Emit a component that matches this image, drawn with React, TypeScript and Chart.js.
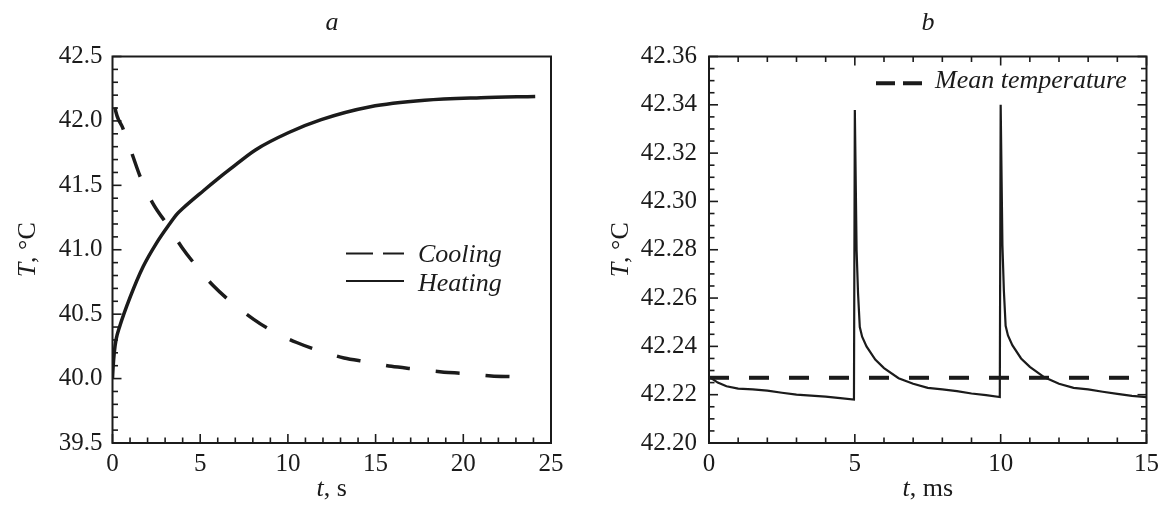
import React, { useEffect, useRef } from "react";
import { Chart, registerables } from "chart.js";

Chart.register(...registerables);

const FONT = '"Liberation Serif", "Times New Roman", Times, serif';
const INK = "#1b1b1b";

// ---------- Panel a data ----------
const A_X_TICKS = [0, 5, 10, 15, 20, 25];
const A_Y_TICKS = [39.5, 40.0, 40.5, 41.0, 41.5, 42.0, 42.5];

const A_HEAT_T = [0, 0.03, 0.1, 0.2, 0.4, 1.0, 1.75, 2.5, 3.2, 3.7, 4.0, 5.2, 6.0, 6.7, 8.15, 10.05, 11.9, 14.7, 17.8, 21.0, 24.1];
const A_HEAT_V = [40.0, 40.08, 40.2, 40.3, 40.4, 40.63, 40.87, 41.05, 41.19, 41.28, 41.32, 41.46, 41.55, 41.625, 41.775, 41.91, 42.01, 42.11, 42.16, 42.18, 42.19];

const A_COOL_T = [0, 0.13, 0.6, 1.1, 1.6, 2.3, 3.2, 3.95, 4.8, 5.75, 6.8, 8.05, 9.1, 10.5, 11.7, 13.2, 14.5, 15.9, 17.2, 18.9, 20.0, 21.6, 22.8];
const A_COOL_V = [42.26, 42.11, 41.94, 41.75, 41.56, 41.36, 41.18, 41.02, 40.87, 40.72, 40.59, 40.46, 40.37, 40.28, 40.22, 40.16, 40.13, 40.095, 40.075, 40.05, 40.04, 40.02, 40.015];

// ---------- Panel b data ----------
const B_X_TICKS = [0, 5, 10, 15];
const B_Y_TICKS = [42.2, 42.22, 42.24, 42.26, 42.28, 42.3, 42.32, 42.34, 42.36];

const B_T = [0, 0.3, 0.6, 1.0, 1.5, 2.0, 2.5, 3.0, 3.5, 4.0, 4.5, 4.97, 5.0, 5.06, 5.11, 5.17, 5.25, 5.4, 5.7, 6.0, 6.5, 7.0, 7.5, 8.0, 8.5, 9.0, 9.5, 9.97, 10.0, 10.06, 10.11, 10.17, 10.25, 10.4, 10.7, 11.0, 11.5, 12.0, 12.5, 13.0, 13.5, 14.0, 14.5, 15.0];
const B_V = [42.2275, 42.225, 42.2235, 42.2225, 42.2222, 42.2217, 42.2208, 42.22, 42.2196, 42.2192, 42.2186, 42.218, 42.3378, 42.28, 42.262, 42.248, 42.244, 42.24, 42.2345, 42.231, 42.2268, 42.2245, 42.2228, 42.2222, 42.2215, 42.2205, 42.2198, 42.219, 42.34, 42.282, 42.263, 42.2485, 42.2445, 42.2405, 42.235, 42.2315, 42.2272, 42.2245, 42.2228, 42.2222, 42.2212, 42.2203, 42.2195, 42.219];

const B_MEAN_T = [0, 15];
const B_MEAN_V = [42.227, 42.227];

const pts = (xs: number[], ys: number[]) => xs.map((x, i) => ({ x, y: ys[i] }));

type Part = { text: string; italic: boolean };
type LegendItem = { dash: number[]; width: number; x1: number; x2: number; y: number; text: string; tx: number; ty: number };
type Deco = {
  allSides: boolean;
  xMinorStep: number;
  yMinorStep: number;
  title: string;
  titleX: number;
  xTitle: Part[];
  yTitle: Part[];
  yTitleX: number;
  legend: LegendItem[];
};

const SIZE = 26;

function fontOf(italic: boolean) {
  return `${italic ? "italic " : ""}${SIZE}px ${FONT}`;
}

function drawParts(ctx: CanvasRenderingContext2D, parts: Part[], cx: number, y: number) {
  let total = 0;
  const widths = parts.map((p) => {
    ctx.font = fontOf(p.italic);
    const w = ctx.measureText(p.text).width;
    total += w;
    return w;
  });
  let x = cx - total / 2;
  parts.forEach((p, i) => {
    ctx.font = fontOf(p.italic);
    ctx.fillText(p.text, x, y);
    x += widths[i];
  });
}

function makeDeco(d: Deco) {
  return {
    id: "deco",
    afterDatasetsDraw(chart: any) {
      const ctx: CanvasRenderingContext2D = chart.ctx;
      const { left, right, top, bottom } = chart.chartArea;
      const xs = chart.scales.x;
      const ys = chart.scales.y;
      ctx.save();
      ctx.strokeStyle = INK;
      ctx.lineWidth = 1.6;
      ctx.setLineDash([]);
      const seg = (x1: number, y1: number, x2: number, y2: number) => {
        ctx.beginPath();
        ctx.moveTo(x1, y1);
        ctx.lineTo(x2, y2);
        ctx.stroke();
      };
      const MAJ = 9;
      const MIN = 5.5;
      const isMajor = (v: number, arr: number[]) => arr.some((m) => Math.abs(m - v) < 1e-6);
      const xMaj = xs.ticks.map((t: any) => t.value);
      const yMaj = ys.ticks.map((t: any) => t.value);
      const nx = Math.round((xs.max - xs.min) / d.xMinorStep);
      for (let i = 0; i <= nx; i++) {
        const v = xs.min + i * d.xMinorStep;
        const len = isMajor(v, xMaj) ? MAJ : MIN;
        const p = xs.getPixelForValue(v);
        seg(p, bottom, p, bottom - len);
        if (d.allSides) seg(p, top, p, top + len);
      }
      const ny = Math.round((ys.max - ys.min) / d.yMinorStep);
      for (let i = 0; i <= ny; i++) {
        const v = ys.min + i * d.yMinorStep;
        const len = isMajor(v, yMaj) ? MAJ : MIN;
        const p = ys.getPixelForValue(v);
        seg(left, p, left + len, p);
        if (d.allSides) seg(right, p, right - len, p);
      }
      ctx.lineWidth = 2;
      ctx.strokeRect(left, top, right - left, bottom - top);

      // legend samples + labels
      ctx.fillStyle = INK;
      ctx.textAlign = "left";
      ctx.textBaseline = "alphabetic";
      d.legend.forEach((it) => {
        ctx.lineWidth = it.width;
        ctx.setLineDash(it.dash);
        seg(it.x1, it.y, it.x2, it.y);
        ctx.setLineDash([]);
        ctx.font = fontOf(true);
        ctx.fillText(it.text, it.tx, it.ty);
      });

      // panel title
      ctx.textAlign = "center";
      ctx.font = fontOf(true);
      ctx.fillText(d.title, d.titleX, 30);

      // axis titles
      ctx.textAlign = "left";
      drawParts(ctx, d.xTitle, (left + right) / 2, 496);
      ctx.translate(d.yTitleX, (top + bottom) / 2);
      ctx.rotate(-Math.PI / 2);
      drawParts(ctx, d.yTitle, 0, 0);
      ctx.restore();
    },
  };
}

type Spec = {
  canvasWidth: number;
  yWidth: number;
  padRight: number;
  xMin: number;
  xMax: number;
  yMin: number;
  yMax: number;
  xTicks: number[];
  yTicks: number[];
  xFmt: (v: number) => string;
  yFmt: (v: number) => string;
  yPad: number;
  datasets: any[];
  deco: Deco;
};

function makeConfig(s: Spec): any {
  const tickFont = { family: FONT, size: 25 };
  return {
    type: "scatter",
    data: { datasets: s.datasets },
    options: {
      responsive: false,
      animation: false,
      devicePixelRatio: 1,
      events: [],
      layout: { padding: { left: 0, right: s.padRight, top: 56.5, bottom: 0 } },
      plugins: { legend: { display: false }, tooltip: { enabled: false }, title: { display: false } },
      scales: {
        x: {
          type: "linear",
          min: s.xMin,
          max: s.xMax,
          afterBuildTicks: (sc: any) => {
            sc.ticks = s.xTicks.map((v) => ({ value: v }));
          },
          afterFit: (sc: any) => {
            sc.height = 63;
          },
          grid: { display: false, drawTicks: false },
          border: { display: false },
          ticks: { padding: 6, font: tickFont, color: INK, maxRotation: 0, autoSkip: false, callback: (v: any) => s.xFmt(Number(v)) },
        },
        y: {
          type: "linear",
          min: s.yMin,
          max: s.yMax,
          afterBuildTicks: (sc: any) => {
            sc.ticks = s.yTicks.map((v) => ({ value: v }));
          },
          afterFit: (sc: any) => {
            sc.width = s.yWidth;
          },
          grid: { display: false, drawTicks: false },
          border: { display: false },
          ticks: { padding: s.yPad, font: tickFont, color: INK, autoSkip: false, callback: (v: any) => s.yFmt(Number(v)) },
        },
      },
    },
    plugins: [makeDeco(s.deco)],
  };
}

const specA: Spec = {
  canvasWidth: 583,
  yWidth: 112.5,
  padRight: 32,
  xMin: 0,
  xMax: 25,
  yMin: 39.5,
  yMax: 42.5,
  xTicks: A_X_TICKS,
  yTicks: A_Y_TICKS,
  xFmt: (v) => String(Math.round(v)),
  yFmt: (v) => v.toFixed(1),
  yPad: 10,
  datasets: [
    {
      label: "Cooling",
      data: pts(A_COOL_T, A_COOL_V),
      showLine: true,
      borderColor: INK,
      borderWidth: 3.5,
      borderDash: [24, 26],
      borderDashOffset: 30,
      cubicInterpolationMode: "monotone",
      pointRadius: 0,
      fill: false,
    },
    {
      label: "Heating",
      data: pts(A_HEAT_T, A_HEAT_V),
      showLine: true,
      borderColor: INK,
      borderWidth: 3.5,
      cubicInterpolationMode: "monotone",
      pointRadius: 0,
      fill: false,
    },
  ],
  deco: {
    allSides: false,
    xMinorStep: 1,
    yMinorStep: 0.1,
    title: "a",
    titleX: 332,
    xTitle: [
      { text: "t", italic: true },
      { text: ", s", italic: false },
    ],
    yTitle: [
      { text: "T", italic: true },
      { text: ", °C", italic: false },
    ],
    yTitleX: 35,
    legend: [
      { dash: [27, 10], width: 2, x1: 346, x2: 404, y: 253.5, text: "Cooling", tx: 418, ty: 262 },
      { dash: [], width: 2, x1: 346, x2: 404, y: 281, text: "Heating", tx: 418, ty: 291 },
    ],
  },
};

const specB: Spec = {
  canvasWidth: 582,
  yWidth: 126,
  padRight: 18,
  xMin: 0,
  xMax: 15,
  yMin: 42.2,
  yMax: 42.36,
  xTicks: B_X_TICKS,
  yTicks: B_Y_TICKS,
  xFmt: (v) => String(Math.round(v)),
  yFmt: (v) => v.toFixed(2),
  yPad: 12,
  datasets: [
    {
      label: "Mean temperature",
      data: pts(B_MEAN_T, B_MEAN_V),
      showLine: true,
      borderColor: INK,
      borderWidth: 4,
      borderDash: [20, 20],
      pointRadius: 0,
      fill: false,
    },
    {
      label: "T",
      data: pts(B_T, B_V),
      showLine: true,
      borderColor: INK,
      borderWidth: 2.2,
      pointRadius: 0,
      tension: 0,
      fill: false,
    },
  ],
  deco: {
    allSides: true,
    xMinorStep: 1,
    yMinorStep: 0.005,
    title: "b",
    titleX: 345,
    xTitle: [
      { text: "t", italic: true },
      { text: ", ms", italic: false },
    ],
    yTitle: [
      { text: "T", italic: true },
      { text: ", °C", italic: false },
    ],
    yTitleX: 45,
    legend: [{ dash: [19, 8], width: 4, x1: 293, x2: 339, y: 83.3, text: "Mean temperature", tx: 352, ty: 88 }],
  },
};

function Panel({ spec, left }: { spec: Spec; left: number }) {
  const ref = useRef<HTMLCanvasElement>(null);
  useEffect(() => {
    const chart = new Chart(ref.current as HTMLCanvasElement, makeConfig(spec));
    return () => chart.destroy();
  }, []);
  return (
    <canvas
      ref={ref}
      width={spec.canvasWidth}
      height={506}
      style={{ position: "absolute", left, top: 0, width: spec.canvasWidth, height: 506 }}
    />
  );
}

export default function App() {
  return (
    <div style={{ position: "absolute", left: 0, top: 0, width: 1165, height: 506, background: "#fff", overflow: "hidden" }}>
      <Panel spec={specA} left={0} />
      <Panel spec={specB} left={583} />
    </div>
  );
}
